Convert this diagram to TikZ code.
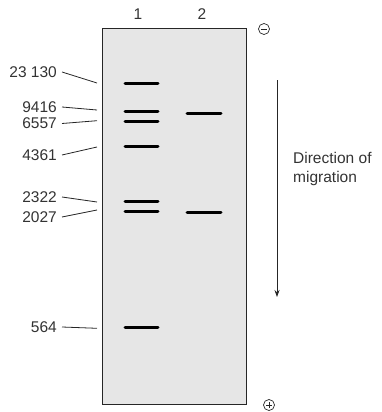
\documentclass[tikz,border=0pt]{standalone}
\usepackage{fontspec}
\setmainfont{Liberation Sans}
\usetikzlibrary{arrows.meta}
\definecolor{txt}{HTML}{333333}
\definecolor{gelfill}{HTML}{E6E6E6}
\begin{document}
\begin{tikzpicture}[x=1pt,y=-1pt,
  lbl/.style={inner sep=0pt,text=txt,font=\fontsize{15.5}{18}\selectfont},
  band/.style={line width=3pt,line cap=round},
  leader/.style={line width=0.8pt,draw=black!85},
  pole/.style={draw=black!85,line width=0.7pt,circle,minimum size=11pt,inner sep=0pt}]
\useasboundingbox (0,0) rectangle (382,412);
% gel
\node[draw=black!85,fill=gelfill,line width=1.1pt,minimum width=144pt,minimum height=376pt,inner sep=0pt,anchor=north west] (gel) at (102,28) {};
% lane labels
\node[lbl] (l1) at (138,14.5) {1};
\node[lbl] (l2) at (202,14.5) {2};
% poles
\node[pole] (minus) at (264,29) {};
\draw[line width=0.7pt,black!85] ([xshift=-3pt]minus.center) -- ([xshift=3pt]minus.center);
\node[pole] (plus) at (269,405) {};
\draw[line width=0.7pt,black!85] ([xshift=-3pt]plus.center) -- ([xshift=3pt]plus.center)
  ([yshift=-3pt]plus.center) -- ([yshift=3pt]plus.center);
% lane 1 bands
\foreach \n/\y in {a/83.5,b/111.7,c/121.3,d/146.7,e/201.7,f/211.3,g/327.3}{
  \coordinate (b1\n l) at (125,\y);
  \coordinate (b1\n r) at (158,\y);
  \draw[band] (b1\n l) -- (b1\n r);
}
% lane 2 bands
\foreach \n/\y in {a/113.7,b/212}{
  \coordinate (b2\n l) at (187,\y);
  \coordinate (b2\n r) at (221,\y);
  \draw[band] (b2\n l) -- (b2\n r);
}
% size labels and leaders
\foreach \n/\t/\y/\e in {a/23 130/72/83,b/9416/107/110,c/6557/123.5/120.7,d/4361/155/147,e/2322/197/202,f/2027/217/210,g/564/327/328.3}{
  \node[lbl,anchor=east] (s\n) at (57,\y) {\t};
  \coordinate (e\n) at (97,\e);
  \draw[leader] ([xshift=5pt]s\n.east) -- (e\n);
}
% direction arrow
\coordinate (arrtop) at (277,80);
\coordinate (arrbot) at (277,297);
\draw[line width=0.8pt,black!85,-{Stealth[length=7pt,width=5pt]}] (arrtop) -- (arrbot);
\node[lbl,anchor=base west] (dir1) at (293,163) {Direction of};
\node[lbl,anchor=base west] (dir2) at (293,182) {migration};
\end{tikzpicture}
\end{document}
